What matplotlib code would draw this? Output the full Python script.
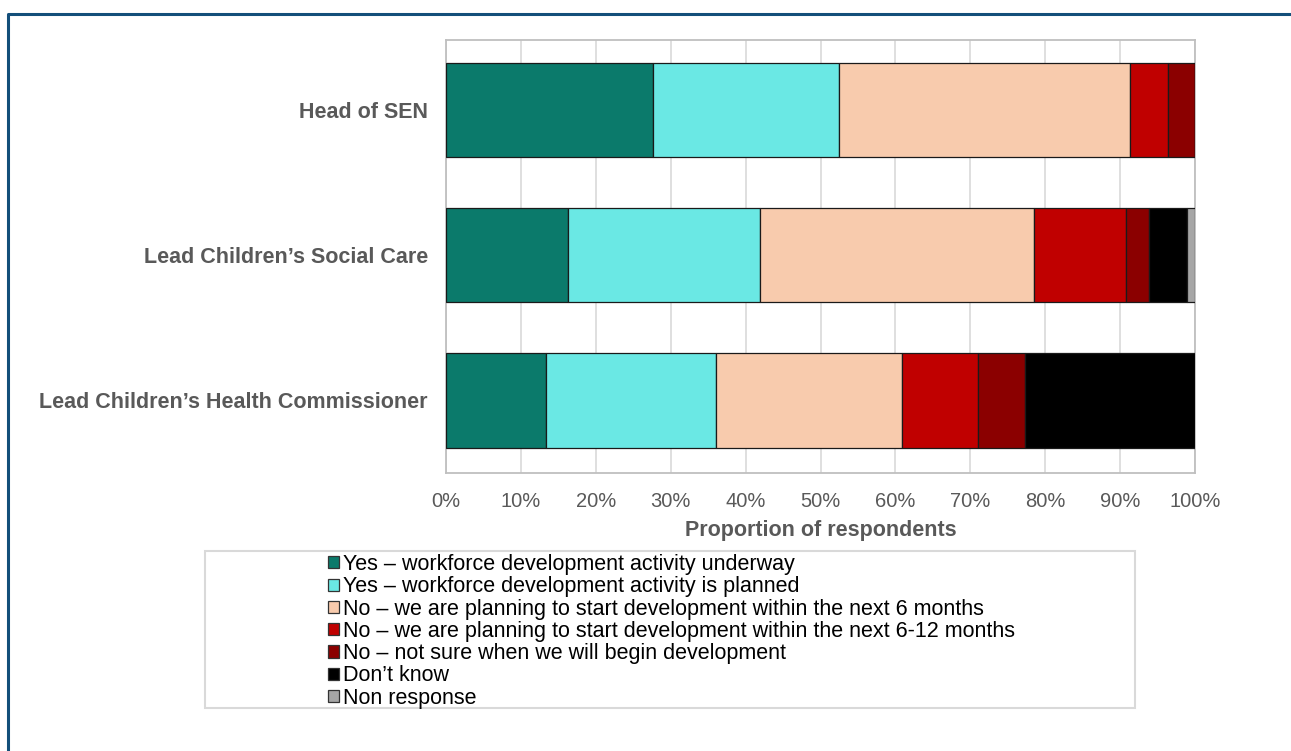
import matplotlib
matplotlib.use("Agg")
import matplotlib.pyplot as plt
from matplotlib.patches import Rectangle
from matplotlib.lines import Line2D
import numpy as np

plt.rcParams['font.family'] = ['Liberation Sans', 'DejaVu Sans']

categories = ["Head of SEN", "Lead Children\u2019s Social Care", "Lead Children\u2019s Health Commissioner"]
series_names = [
    "Yes \u2013 workforce development activity underway",
    "Yes \u2013 workforce development activity is planned",
    "No \u2013 we are planning to start development within the next 6 months",
    "No \u2013 we are planning to start development within the next 6-12 months",
    "No \u2013 not sure when we will begin development",
    "Don\u2019t know",
    "Non response",
]
underway = [27.6, 16.3, 13.4]
planned = [24.9, 25.6, 22.6]
next6 = [38.8, 36.6, 24.9]
next6_12 = [5.1, 12.3, 10.1]
not_sure = [3.6, 3.1, 6.3]
dont_know = [0.0, 5.0, 22.7]
non_response = [0.0, 1.1, 0.0]
series_values = [underway, planned, next6, next6_12, not_sure, dont_know, non_response]
colors = ["#0B7A6B", "#6AE8E4", "#F8CBAD", "#C00000", "#8B0000", "#000000", "#A6A6A6"]
xticklabels = ["0%", "10%", "20%", "30%", "40%", "50%", "60%", "70%", "80%", "90%", "100%"]

W, H = 1291, 751
fig = plt.figure(figsize=(W / 100, H / 100), dpi=100)
ax = fig.add_axes([446 / W, 1 - 473 / H, (1195 - 446) / W, (473 - 40) / H])

y = np.arange(len(categories))
left = np.zeros(len(categories))
handles = []
for name, vals, col in zip(series_names, series_values, colors):
    vals = np.array(vals, dtype=float)
    ax.barh(y, vals, left=left, height=0.65, color=col, edgecolor="#1a1a1a",
            linewidth=0.9, zorder=3, label=name)
    left += vals
    handles.append(Rectangle((0, 0), 1, 1, facecolor=col, edgecolor="#333333", linewidth=0.9))

ax.set_xlim(0, 100)
ax.set_ylim(2.5, -0.48)
ax.set_yticks(y)
ax.set_yticklabels(categories, fontsize=15.5, fontweight="bold", color="#595959")
ax.set_xticks(np.arange(0, 101, 10))
ax.set_xticklabels(xticklabels, fontsize=14.5, color="#595959")
ax.tick_params(axis="both", length=0)
ax.tick_params(axis="y", pad=13)
ax.tick_params(axis="x", pad=14)
ax.xaxis.grid(True, color="#D9D9D9", linewidth=1.2, zorder=0)
ax.set_axisbelow(True)
for s in ax.spines.values():
    s.set_color("#BFBFBF")
    s.set_linewidth(1.3)
ax.set_xlabel("Proportion of respondents", fontsize=15.5, fontweight="bold",
              color="#595959", labelpad=6)

# legend frame box
fig.patches.append(Rectangle((205 / W, 1 - 708 / H), 930 / W, 157 / H,
                             transform=fig.transFigure, facecolor="none",
                             edgecolor="#D9D9D9", linewidth=1.5))
leg = fig.legend(handles, series_names, loc="upper left",
                 bbox_to_anchor=(328 / W, 1 - 554 / H), frameon=False,
                 fontsize=15.5, handlelength=0.5, handleheight=0.5,
                 handletextpad=0.2, labelspacing=0.06, borderpad=0,
                 borderaxespad=0)
for t in leg.get_texts():
    t.set_color("#000000")

# outer border
fig.add_artist(Line2D([8 / W, 8 / W, 1.0], [0.0, 1 - 14 / H, 1 - 14 / H],
                      transform=fig.transFigure, color="#134F7A", linewidth=2.2))

fig.savefig("out.png", dpi=100)
